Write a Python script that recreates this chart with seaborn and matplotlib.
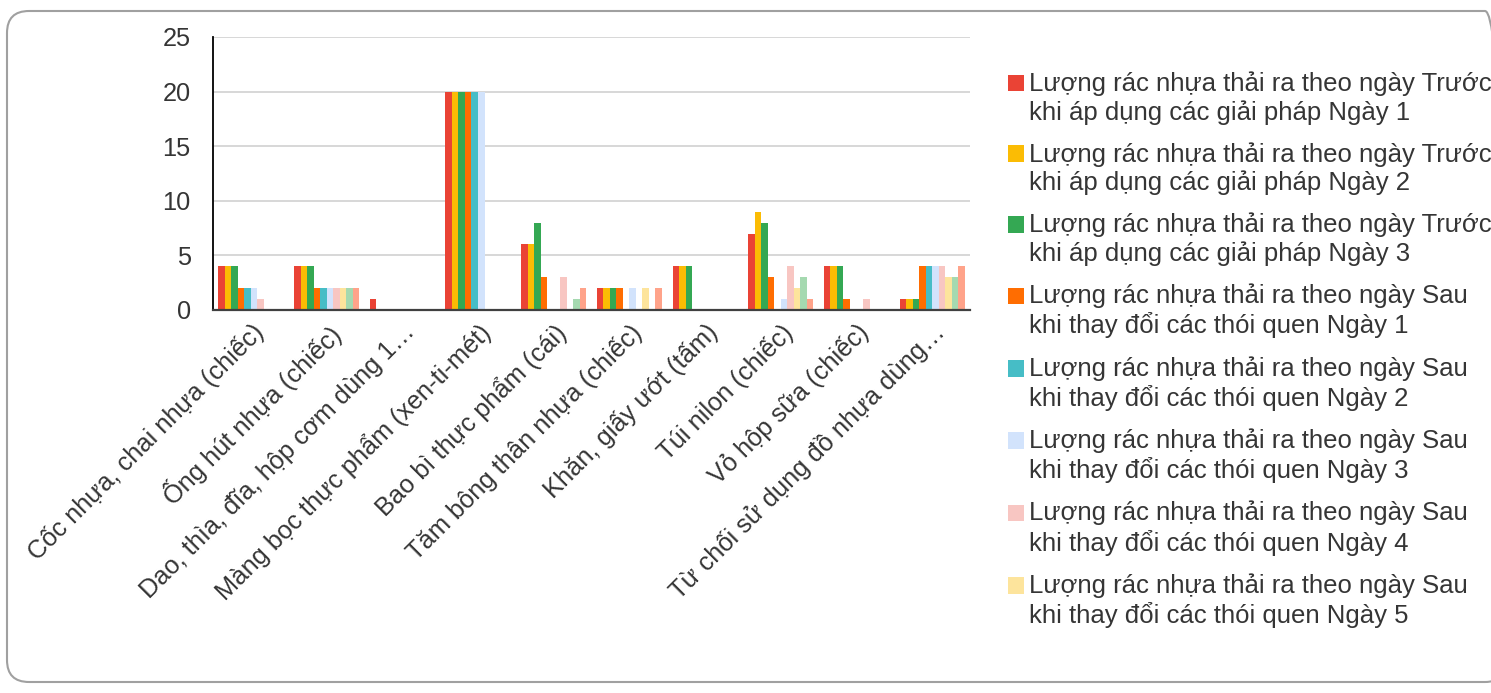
import matplotlib
matplotlib.use("Agg")
import matplotlib.pyplot as plt
from matplotlib.patches import FancyBboxPatch, Patch, Rectangle
from matplotlib.legend_handler import HandlerPatch
import seaborn as sns
import pandas as pd

# ─────────────────────────────────────────────
# Data
# ─────────────────────────────────────────────
categories = [
    "Cốc nhựa, chai nhựa (chiếc)",
    "Ống hút nhựa (chiếc)",
    "Dao, thìa, đĩa, hộp cơm dùng 1…",
    "Màng bọc thực phẩm (xen-ti-mét)",
    "Bao bì thực phẩm (cái)",
    "Tăm bông thân nhựa (chiếc)",
    "Khăn, giấy ướt (tấm)",
    "Túi nilon (chiếc)",
    "Vỏ hộp sữa (chiếc)",
    "Từ chối sử dụng đồ nhựa dùng…",
]

series_names = (
    [f"Lượng rác nhựa thải ra theo ngày Trước\nkhi áp dụng các giải pháp Ngày {d}" for d in (1, 2, 3)]
    + [f"Lượng rác nhựa thải ra theo ngày Sau\nkhi thay đổi các thói quen Ngày {d}" for d in (1, 2, 3, 4, 5, 6, 7)]
)

truoc_1 = [4, 4, 1, 20, 6, 2, 4, 7, 4, 1]
truoc_2 = [4, 4, 0, 20, 6, 2, 4, 9, 4, 1]
truoc_3 = [4, 4, 0, 20, 8, 2, 4, 8, 4, 1]
sau_1   = [2, 2, 0, 20, 3, 2, 0, 3, 1, 4]
sau_2   = [2, 2, 0, 20, 0, 0, 0, 0, 0, 4]
sau_3   = [2, 2, 0, 20, 0, 2, 0, 1, 0, 4]
sau_4   = [1, 2, 0, 0, 3, 0, 0, 4, 1, 4]
sau_5   = [0, 2, 0, 0, 0, 2, 0, 2, 0, 3]
sau_6   = [0, 2, 0, 0, 1, 0, 0, 3, 0, 3]
sau_7   = [0, 2, 0, 0, 2, 2, 0, 1, 0, 4]

all_series = [truoc_1, truoc_2, truoc_3, sau_1, sau_2, sau_3, sau_4, sau_5, sau_6, sau_7]

colors = ["#EA4335", "#FBBC04", "#34A853", "#FF6D01", "#46BDC6",
          "#D2E3FC", "#F8C6C2", "#FDE49C", "#A5D9B0", "#FFA38A"]

rows = []
for name, vals in zip(series_names, all_series):
    for cat, v in zip(categories, vals):
        rows.append({"cat": cat, "series": name, "value": v})
df = pd.DataFrame(rows)

# ─────────────────────────────────────────────
# Plot
# ─────────────────────────────────────────────
sns.set_style("white")
plt.rcParams["font.family"] = ["Liberation Sans", "DejaVu Sans"]
text_color = "#353535"

fig = plt.figure(figsize=(14.91, 6.93), dpi=100)
ax = fig.add_axes([0.1429, 0.5527, 0.5077, 0.394])

sns.barplot(data=df, x="cat", y="value", hue="series", order=categories,
            hue_order=series_names, palette=colors, width=0.86,
            saturation=1, linewidth=0, edgecolor="none", ax=ax, legend=False)

ax.set_ylim(0, 25)
ax.set_yticks([0, 5, 10, 15, 20, 25])
ax.set_xlim(-0.5, len(categories) - 0.5)
ax.yaxis.grid(True, color="#D4D4D4", linewidth=1.3)
ax.set_axisbelow(True)
ax.set_xlabel("")
ax.set_ylabel("")
for s in ["top", "right"]:
    ax.spines[s].set_visible(False)
ax.spines["left"].set_color("#000000")
ax.spines["left"].set_linewidth(1.3)
ax.spines["bottom"].set_color("#404040")
ax.spines["bottom"].set_linewidth(1.6)
ax.tick_params(axis="both", length=0, labelsize=18.3, colors=text_color)
ax.tick_params(axis="y", pad=16)
ax.set_xticks(range(len(categories)))
ax.set_xticklabels(categories, rotation=45, ha="right", rotation_mode="anchor")
ax.tick_params(axis="x", pad=7)


# legend square sits next to the first line of each two-line label
def top_square(legend, orig_handle, xdescent, ydescent, width, height, fontsize):
    return Rectangle((-xdescent, -ydescent + 0.6 * fontsize), width, height)


# only the first 8 entries are shown in the original
handles = [Patch(facecolor=c, edgecolor="none") for c in colors[:8]]
ax.legend(handles, series_names[:8], loc="upper left", bbox_to_anchor=(1.036, 0.912),
          frameon=False, fontsize=18.5, handlelength=0.62, handleheight=0.62,
          handletextpad=0.22, labelspacing=0.68, labelcolor=text_color,
          borderaxespad=0, handler_map={Patch: HandlerPatch(patch_func=top_square)})

# chart area frame with rounded corners
frame = FancyBboxPatch((7, 11), 1500, 671, boxstyle="round,pad=0,rounding_size=22",
                       transform=None, facecolor="none", edgecolor="#A0A0A0",
                       linewidth=1.5)
fig.patches.append(frame)

fig.savefig("out.png", dpi=100)
